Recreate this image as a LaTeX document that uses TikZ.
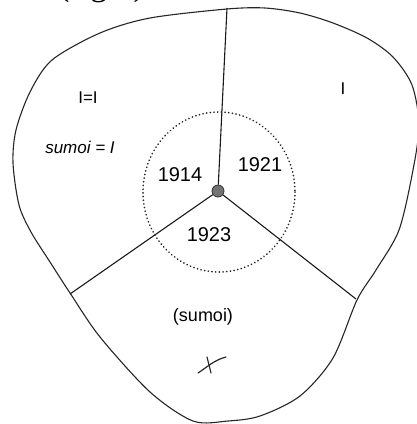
\documentclass[tikz,border=0pt]{standalone}
\usepackage{fontspec}
\setmainfont{Liberation Sans}
\newfontfamily\capfont{Liberation Serif}
\begin{document}
\begin{tikzpicture}[x=1pt,y=-1pt,
  outline/.style={draw=black!85, line width=1.1pt},
  spoke/.style={draw=black!90, line width=1.1pt},
  lbl/.style={font=\fontsize{17}{17}\selectfont, inner sep=0pt},
  num/.style={font=\fontsize{20}{20}\selectfont, inner sep=0pt},
  hub/.style={circle, draw=black!80, fill=black!55, minimum size=12pt, inner sep=0pt, line width=0.8pt}]
\useasboundingbox (0,0) rectangle (417,424);
\clip (0,0) rectangle (417,424);
% caption cut off at top
\node[anchor=base west, inner sep=0pt, font=\capfont\fontsize{34}{34}\selectfont] (cap) at (58,-5) {(right)};
% outline
\draw[outline] plot[smooth cycle, tension=0.5] coordinates {
 (193,421) (150,392) (100,337) (70,293) (50,262) (31,232) (19,205) (13,163) (16,130)
 (30,92) (52,60) (100,33) (150,18) (227,9) (265,8) (300,13) (333,23) (367,38)
 (393,57) (412,85) (419,125) (413,170) (399,230) (376,270) (357,300) (333,358)
 (300,396) (260,416) (228,421)};
% dotted circle
\draw[black!85, line width=1.8pt, dash pattern=on 0.1pt off 3.6pt, line cap=round]
  (219,192) ellipse [x radius=76, y radius=80];
% hub and spokes
\node[hub] (c) at (218,191) {};
\coordinate (t) at (227,8);
\coordinate (l) at (70,294);
\coordinate (r) at (356,299);
\draw[spoke] (c) -- (t);
\draw[spoke] (c) -- (l);
\draw[spoke] (c) -- (r);
% labels
\node[lbl] (a1) at (88,98) {I=I};
\node[lbl] (a2) at (343,89) {I};
\node[lbl, font=\fontsize{17}{17}\selectfont\itshape] (a3) at (80,147) {sumoi = I};
\node[num] (n1) at (180,175) {1914};
\node[num] (n2) at (260,165) {1921};
\node[num] (n3) at (209,235) {1923};
\node[lbl, font=\fontsize{18}{18}\selectfont] (a4) at (203,317) {(sumoi)};
% hand-drawn mark
\draw[black!85, line width=1.2pt, line cap=round] (198,373) .. controls (206,368) and (214,360) .. (226,357);
\draw[black!85, line width=1.2pt, line cap=round] (207,357) -- (211,373);
\end{tikzpicture}
\end{document}
